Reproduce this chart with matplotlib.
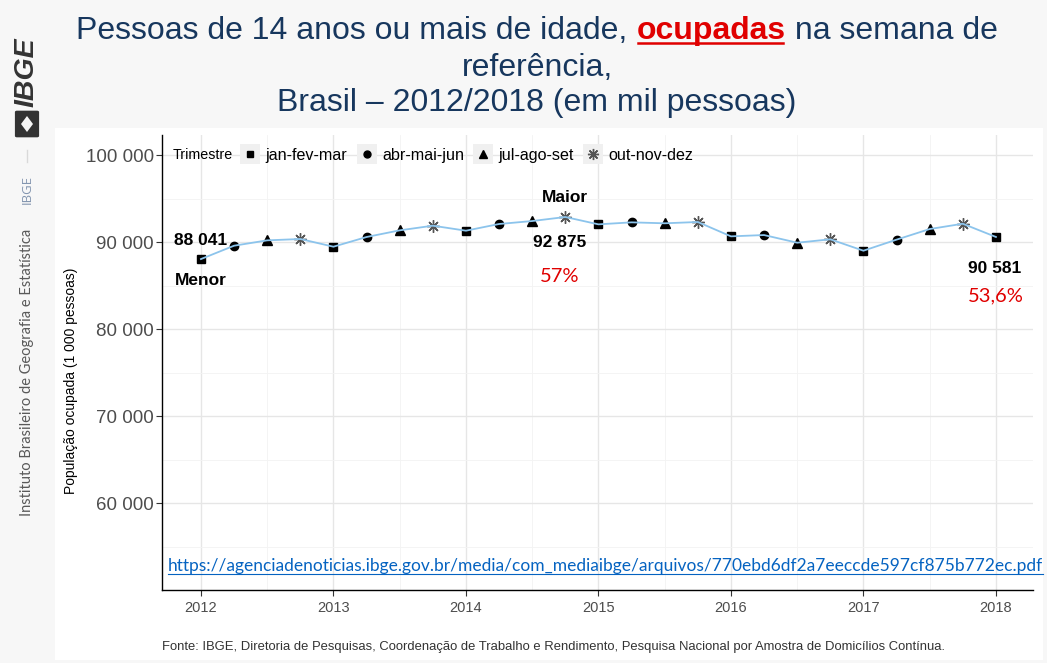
import matplotlib
matplotlib.use('Agg')
import matplotlib.pyplot as plt
from matplotlib.lines import Line2D
from matplotlib.patches import Rectangle, FancyBboxPatch, Polygon
from matplotlib.ticker import FuncFormatter, MultipleLocator

plt.rcParams['font.family'] = ['Liberation Sans', 'DejaVu Sans']

# ---------------- data ----------------
anos = [2012, 2012, 2012, 2012, 2013, 2013, 2013, 2013, 2014, 2014, 2014, 2014,
        2015, 2015, 2015, 2015, 2016, 2016, 2016, 2016, 2017, 2017, 2017, 2017, 2018]
trimestres = [1, 2, 3, 4, 1, 2, 3, 4, 1, 2, 3, 4, 1, 2, 3, 4, 1, 2, 3, 4, 1, 2, 3, 4, 1]
ocupados = [88041, 89575, 90190, 90345, 89460, 90575, 91340, 91875, 91300, 92070, 92410, 92875,
            92030, 92260, 92150, 92300, 90650, 90800, 89920, 90310, 89000, 90270, 91490, 92100, 90581]
nomes_trim = ['jan-fev-mar', 'abr-mai-jun', 'jul-ago-set', 'out-nov-dez']
anos_ticks = [2012, 2013, 2014, 2015, 2016, 2017, 2018]
y_ticks = [60000, 70000, 80000, 90000, 100000]

W, H = 1047, 663
fig = plt.figure(figsize=(W / 100, H / 100), dpi=100, facecolor='#F7F7F7')

def fx(px):
    return px / W

def fy(py):
    return 1 - py / H

# white panel
fig.patches.append(Rectangle((fx(55), fy(660)), fx(1043) - fx(55), fy(128) - fy(660),
                             transform=fig.transFigure, facecolor='white', edgecolor='none', zorder=-5))

ax = fig.add_axes([fx(162), fy(590), fx(1033) - fx(162), fy(135) - fy(590)])
ax.set_facecolor('white')
ax.set_zorder(2)

x = [a + (t - 1) / 4 for a, t in zip(anos, trimestres)]

ax.plot(x, ocupados, color='#8CC4EC', lw=1.3, zorder=4)
marcadores = ['s', 'o', '^', (8, 2, 0)]
tamanhos = [6, 6, 7, 9]
cores = ['black', 'black', 'black', '#555555']
for q in range(4):
    xs = [xx for xx, t in zip(x, trimestres) if t == q + 1]
    ys = [v for v, t in zip(ocupados, trimestres) if t == q + 1]
    ax.plot(xs, ys, linestyle='none', marker=marcadores[q], ms=tamanhos[q],
            color=cores[q], mew=1.0, zorder=3)

ax.set_xlim(2011.706, 2018.28)
ax.set_ylim(50000, 102300)
ax.set_xticks(anos_ticks)
ax.set_yticks(y_ticks)
ax.yaxis.set_major_formatter(FuncFormatter(lambda v, p: f"{v:,.0f}".replace(',', ' ')))
ax.xaxis.set_minor_locator(MultipleLocator(0.5))
ax.yaxis.set_minor_locator(MultipleLocator(5000))
ax.grid(True, which='major', color='#E6E6E6', lw=1.0)
ax.grid(True, which='minor', color='#F3F3F3', lw=0.6)
ax.set_axisbelow(True)
ax.tick_params(which='minor', length=0)
ax.tick_params(axis='y', labelsize=13.5, labelcolor='#4D4D4D', color='#333333', length=4, pad=2)
ax.tick_params(axis='x', labelsize=10.5, labelcolor='#4D4D4D', color='#333333', length=4, pad=4)
for s in ['top', 'right']:
    ax.spines[s].set_visible(False)
for s in ['left', 'bottom']:
    ax.spines[s].set_color('black')
    ax.spines[s].set_linewidth(1.0)
ax.set_ylabel('População ocupada (1 000 pessoas)', fontsize=10, color='black')
ax.yaxis.set_label_coords(-0.096, 0.46)

# legend
handles = [Line2D([], [], linestyle='none', marker=marcadores[q], ms=tamanhos[q] - 1,
                  color=cores[q], mew=1.0) for q in range(4)]
leg = ax.legend(handles, nomes_trim, ncol=4, loc='center left', bbox_to_anchor=(0.092, 0.956),
                frameon=False, fontsize=11.6, handlelength=1.0, handletextpad=0.45,
                columnspacing=0.7, borderaxespad=0, borderpad=0)
leg.set_zorder(6)
ax.text(0.0126, 0.956, 'Trimestre', transform=ax.transAxes, fontsize=10.3, va='center', ha='left')

# annotations
bold = dict(fontsize=12.5, fontweight='bold', ha='center', va='center', family='Liberation Sans')
red = dict(fontsize=14.5, color='#E00000', ha='center', va='center', family='Lato')
ax.text(2012.0, 90230, '88 041', **bold)
ax.text(2012.0, 85520, 'Menor', **bold)
ax.text(2014.75, 95170, 'Maior', **bold)
ax.text(2014.71, 89890, '92 875', **bold)
ax.text(2014.71, 85980, '57%', **red)
ax.text(2017.99, 87010, '90 581', **bold)
ax.text(2018.0, 83790, '53,6%', **red)

# URL
url = 'https://agenciadenoticias.ibge.gov.br/media/com_mediaibge/arquivos/770ebd6df2a7eeccde597cf875b772ec.pdf'
t_url = fig.text(fx(168), fy(566), url, fontsize=12.5, color='#0563C1', family='Lato',
                 ha='left', va='center', zorder=5)

# footer
fig.text(fx(162), fy(647), 'Fonte: IBGE, Diretoria de Pesquisas, Coordenação de Trabalho e Rendimento, '
         'Pesquisa Nacional por Amostra de Domicílios Contínua.', fontsize=9.4, color='#333333',
         ha='left', va='center', family='Liberation Sans')

# title
navy = '#17375E'
tfs = 23
fig.text(fx(537), fy(68), 'referência,', fontsize=tfs, color=navy, ha='center', va='center',
         family='Liberation Sans')
fig.text(fx(537), fy(103), 'Brasil – 2012/2018 (em mil pessoas)', fontsize=tfs, color=navy,
         ha='center', va='center', family='Liberation Sans')
parts = [('Pessoas de 14 anos ou mais de idade, ', navy, 'normal'),
         ('ocupadas', '#E00000', 'bold'),
         (' na semana de', navy, 'normal')]
texts = []
for s, c, w in parts:
    texts.append(fig.text(0, fy(39), s, fontsize=tfs, color=c, fontweight=w, ha='left',
                          va='baseline', family='Liberation Sans'))

# sidebar
fig.text(fx(27), fy(72), 'IBGE', rotation=90, fontsize=20.5, fontweight='bold', style='italic',
         color='#333333', ha='center', va='center', family='Liberation Sans')
fig.patches.append(FancyBboxPatch((fx(17), fy(136)), fx(20), fy(112) - fy(136),
                                  boxstyle='round,pad=0.002', transform=fig.transFigure,
                                  facecolor='#333333', edgecolor='none'))
fig.patches.append(Polygon([(fx(27), fy(116)), (fx(33), fy(124)), (fx(27), fy(132)), (fx(21), fy(124))],
                           closed=True, transform=fig.transFigure, facecolor='#F7F7F7', edgecolor='none'))
fig.lines.append(Line2D([fx(27), fx(27)], [fy(150), fy(162)], transform=fig.transFigure,
                        color='#D9D9D9', lw=1))
fig.text(fx(27), fy(189), 'IBGE', rotation=90, fontsize=9.5, color='#8496B0', ha='center', va='center',
         family='Open Sans')
fig.text(fx(27), fy(372), 'Instituto Brasileiro de Geografia e Estatística', rotation=90, fontsize=10.5,
         color='#595959', ha='center', va='center', family='Lato')

# layout of composite title, underlines, legend key backgrounds
fig.canvas.draw()
r = fig.canvas.get_renderer()
widths = [t.get_window_extent(r).width for t in texts]
total = sum(widths)
x0 = 537 - total / 2
for t, w in zip(texts, widths):
    t.set_x(fx(x0))
    x0 += w
fig.canvas.draw()
bb = texts[1].get_window_extent(r)
fig.lines.append(Line2D([bb.x0 / W + 1 / W, bb.x1 / W - 3 / W], [fy(43), fy(43)], transform=fig.transFigure,
                        color='#E00000', lw=1.8))
bu = t_url.get_window_extent(r)
fig.lines.append(Line2D([bu.x0 / W, bu.x1 / W], [fy(574), fy(574)], transform=fig.transFigure,
                        color='#0563C1', lw=0.8, zorder=5))
for h in leg.legend_handles:
    e = h.get_window_extent(r)
    cx, cy = (e.x0 + e.x1) / 2, (e.y0 + e.y1) / 2
    ax.add_patch(Rectangle(((cx - 10) / W, (cy - 10) / H), 20 / W, 20 / H,
                           transform=fig.transFigure, facecolor='#F0F0F0',
                           edgecolor='none', zorder=1.5, clip_on=False))

fig.savefig('out.png', dpi=100, facecolor=fig.get_facecolor())
